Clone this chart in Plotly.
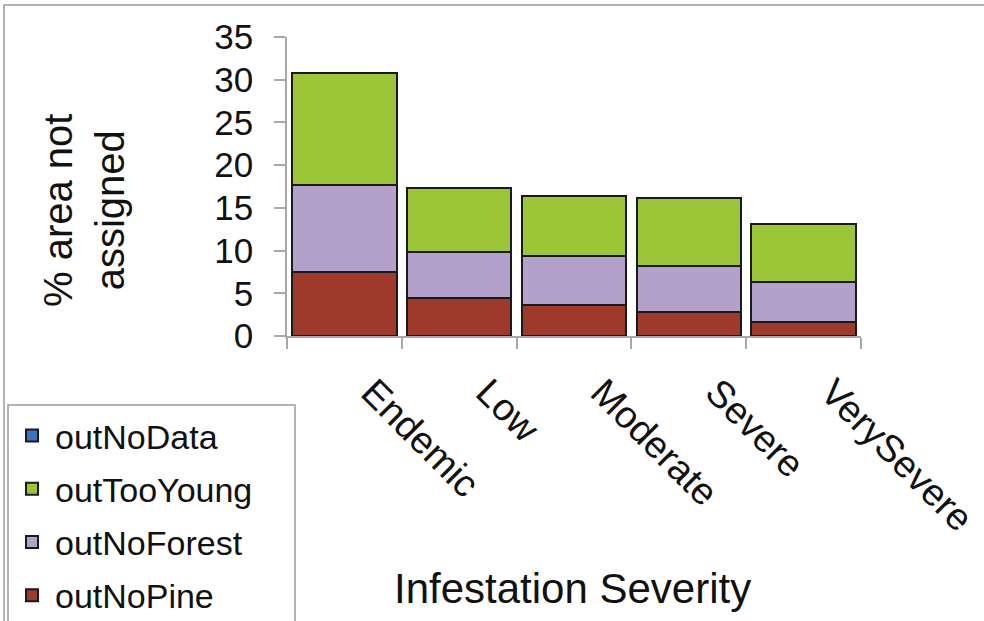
import plotly.graph_objects as go

categories = ["Endemic", "Low", "Moderate", "Severe", "VerySevere"]
out_no_pine = [7.5, 4.5, 3.6, 2.8, 1.6]
out_no_forest = [10.2, 5.35, 5.75, 5.4, 4.7]
out_too_young = [13.05, 7.45, 7.05, 8.0, 6.85]
out_no_data = [0, 0, 0, 0, 0]
y_ticks = [0, 5, 10, 15, 20, 25, 30, 35]

FONT = "Liberation Sans, Arial, sans-serif"
W, H = 984, 621
L, R, T, B = 287, 861, 37, 336  # plot area pixel edges


def px(x):
    return (x - L) / (R - L)


def py(y):
    return (B - y) / (B - T)


series = [
    ("outNoPine", out_no_pine, "#9E3A2B", 4),
    ("outNoForest", out_no_forest, "#B3A1CA", 3),
    ("outTooYoung", out_too_young, "#9CC637", 2),
    ("outNoData", out_no_data, "#3A74BF", 1),
]

fig = go.Figure()
for name, vals, color, rank in series:
    fig.add_trace(go.Bar(
        x=categories, y=vals, name=name, legendgroup=name, legendrank=rank,
        marker=dict(color=color, line=dict(color="#1a1a1a", width=2)),
    ))

fig.update_layout(
    width=W, height=H,
    margin=dict(l=L, r=W - R, t=T, b=H - B, autoexpand=False),
    barmode="stack", bargap=0.09,
    plot_bgcolor="white", paper_bgcolor="white",
    font=dict(family=FONT, color="#111111"),
    showlegend=True,
    legend=dict(
        x=px(9), y=py(407), xanchor="left", yanchor="top",
        traceorder="grouped", tracegroupgap=6, itemwidth=36,
        font=dict(size=34, family=FONT, color="#111111"),
        borderwidth=0, bgcolor="rgba(0,0,0,0)",
    ),
    xaxis=dict(
        type="category", tickangle=45, tickson="boundaries",
        ticks="outside", ticklen=11, tickcolor="#a8a8a8", tickwidth=1.5,
        showline=True, linecolor="#a8a8a8", linewidth=1.5,
        tickfont=dict(size=38, family=FONT, color="#111111"),
        ticklabelstandoff=17, ticklabelshift=28, showgrid=False, automargin=False,
    ),
    yaxis=dict(
        range=[0, 35], tickvals=y_ticks, ticktext=[str(v) for v in y_ticks],
        ticks="outside", ticklen=11, tickcolor="#a8a8a8", tickwidth=1.5,
        showline=True, linecolor="#a8a8a8", linewidth=1.5,
        tickfont=dict(size=35, family=FONT, color="#111111"),
        ticklabelstandoff=14, showgrid=False, zeroline=False, automargin=False,
    ),
    annotations=[
        dict(text="Infestation Severity", xref="paper", yref="paper",
             x=px(572), y=py(588), xanchor="center", yanchor="middle",
             showarrow=False, font=dict(size=42, family=FONT, color="#111111")),
        dict(text="% area not<br>assigned", xref="paper", yref="paper",
             x=px(84), y=py(211), xanchor="center", yanchor="middle",
             textangle=-90, showarrow=False,
             font=dict(size=40, family=FONT, color="#111111")),
    ],
    shapes=[
        dict(type="rect", xref="paper", yref="paper",
             x0=px(4), x1=px(995), y0=py(5), y1=py(640),
             line=dict(color="#9a9a9a", width=1.5), fillcolor="rgba(0,0,0,0)",
             layer="below"),
        dict(type="rect", xref="paper", yref="paper",
             x0=px(8), x1=px(295), y0=py(405), y1=py(640),
             line=dict(color="#9a9a9a", width=1.5), fillcolor="white",
             layer="below"),
    ],
)

fig.write_html("out.html", config={"displayModeBar": False},
               post_script="document.body.style.margin='0';")
